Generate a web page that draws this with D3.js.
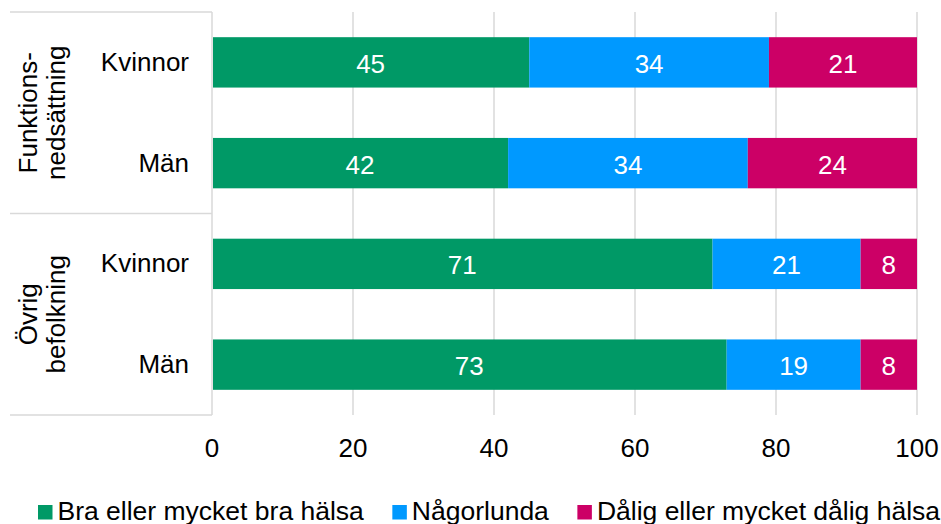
<!DOCTYPE html>
<html>
<head>
<meta charset="utf-8">
<script src="https://cdn.jsdelivr.net/npm/d3@7"></script>
<style>
  html, body { margin: 0; padding: 0; background: #fff; }
  svg { display: block; font-family: "Liberation Sans", Arial, sans-serif; }
</style>
</head>
<body>
<svg id="chart" width="941" height="524"></svg>
<script>
// Group headings (two lines each) and the rows within each group
const groups = [["Funktions-", "nedsättning"], ["Övrig", "befolkning"]];
const rowGroup = [0, 0, 1, 1];
const categories = ["Kvinnor", "Män", "Kvinnor", "Män"];

// Share (%) per health answer, one value per row
const seriesNames = ["Bra eller mycket bra hälsa", "Någorlunda", "Dålig eller mycket dålig hälsa"];
const braValues = [45, 42, 71, 73];
const nagorlundaValues = [34, 34, 21, 19];
const daligValues = [21, 24, 8, 8];
const seriesColors = ["#009966", "#0099FF", "#CC0066"];

const xTicks = [0, 20, 40, 60, 80, 100];

const svg = d3.select("#chart");
const fontSize = 26;

const plot = { left: 212, right: 917, top: 12, bottom: 415 };
const x = d3.scaleLinear().domain([0, 100]).range([plot.left, plot.right]);
const rowIds = categories.map((c, i) => i);
const y = d3.scaleBand().domain(rowIds).range([plot.top, plot.bottom])
  .paddingInner(0.5).paddingOuter(0.25);

const gridColor = "#d9d9d9";

// Vertical gridlines
svg.append("g").selectAll("line").data(xTicks).join("line")
  .attr("x1", d => x(d)).attr("x2", d => x(d))
  .attr("y1", plot.top).attr("y2", plot.bottom)
  .attr("stroke", gridColor).attr("stroke-width", 1.5);

// Category-axis frame: horizontal separators between groups
const groupBounds = [plot.top, (y(1) + y.bandwidth() + y(2)) / 2, plot.bottom];
svg.append("g").selectAll("line").data(groupBounds).join("line")
  .attr("x1", 10).attr("x2", plot.left)
  .attr("y1", d => d).attr("y2", d => d)
  .attr("stroke", gridColor).attr("stroke-width", 1.5);

// Stacked layout
const table = rowIds.map(i => ({
  row: i,
  bra: braValues[i],
  nag: nagorlundaValues[i],
  dal: daligValues[i]
}));
const keys = ["bra", "nag", "dal"];
const stacked = d3.stack().keys(keys)(table);

const layers = svg.append("g").selectAll("g").data(stacked).join("g")
  .attr("fill", (d, i) => seriesColors[i]);

layers.selectAll("rect").data(d => d).join("rect")
  .attr("x", d => x(d[0]) + (d[0] === 0 ? 1 : 0))
  .attr("width", d => x(d[1]) - x(d[0]) - (d[0] === 0 ? 1 : 0))
  .attr("y", d => y(d.data.row))
  .attr("height", y.bandwidth());

// Value labels inside the segments
layers.selectAll("text").data((d) => d.map(v => ({ v, key: d.key }))).join("text")
  .attr("x", d => (x(d.v[0]) + x(d.v[1])) / 2)
  .attr("y", d => y(d.v.data.row) + y.bandwidth() / 2 + 10.5)
  .attr("text-anchor", "middle")
  .attr("fill", "#fff")
  .attr("font-size", fontSize)
  .text(d => d.v.data[d.key]);

// X axis tick labels
svg.append("g").selectAll("text").data(xTicks).join("text")
  .attr("x", d => x(d))
  .attr("y", 457)
  .attr("text-anchor", "middle")
  .attr("font-size", fontSize)
  .attr("fill", "#000")
  .text(d => d);

// Row labels
svg.append("g").selectAll("text").data(rowIds).join("text")
  .attr("x", 189)
  .attr("y", d => y(d) + y.bandwidth() / 2 + 8.5)
  .attr("text-anchor", "end")
  .attr("font-size", fontSize)
  .attr("fill", "#000")
  .text(d => categories[d]);

// Group labels, rotated, two lines each
groups.forEach((lines, gi) => {
  const cy = (groupBounds[gi] + groupBounds[gi + 1]) / 2;
  const t = svg.append("text")
    .attr("transform", `translate(37,${cy}) rotate(-90)`)
    .attr("text-anchor", "middle")
    .attr("font-size", fontSize)
    .attr("fill", "#000");
  lines.forEach((ln, li) => {
    t.append("tspan").attr("x", 0).attr("y", li * 27.5).text(ln);
  });
});

// Legend, laid out left to right
const legend = svg.append("g");
const items = seriesNames.map((name, i) => {
  const g = legend.append("g");
  g.append("rect").attr("x", 0).attr("y", -15).attr("width", 14.5).attr("height", 14.5)
    .attr("fill", seriesColors[i]);
  const t = g.append("text").attr("x", 19.5).attr("y", 0)
    .attr("font-size", 26.5).attr("fill", "#000").text(name);
  return { g, w: 19.5 + t.node().getComputedTextLength() };
});
const gap = 28.5;
let cx = 38;
items.forEach(it => {
  it.g.attr("transform", `translate(${cx},520)`);
  cx += it.w + gap;
});
</script>
</body>
</html>
